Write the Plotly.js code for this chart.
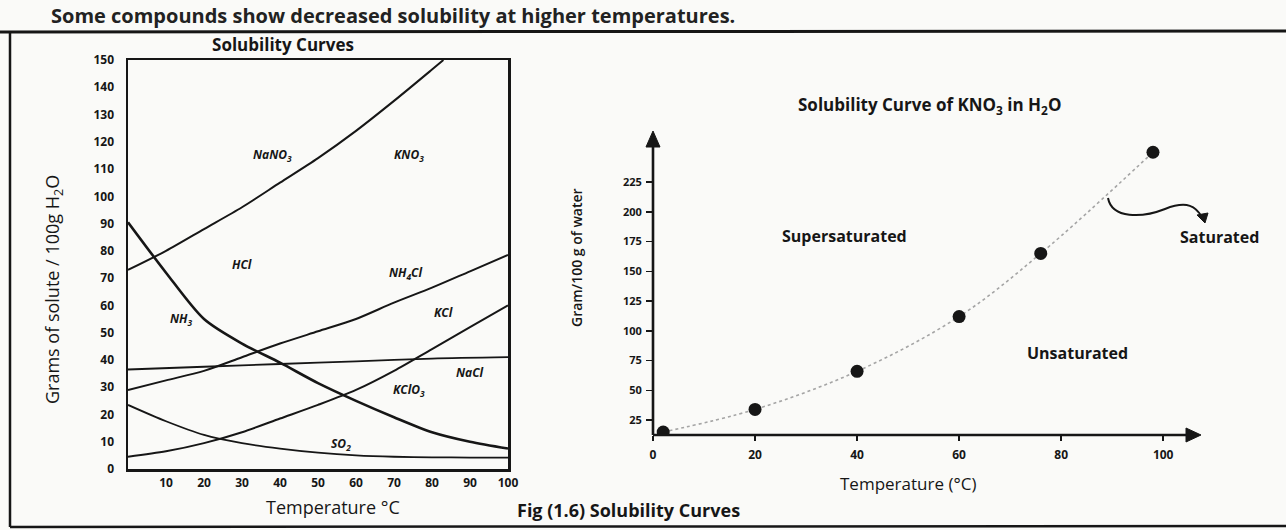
<!DOCTYPE html>
<html><head><meta charset="utf-8">
<script src="https://cdn.plot.ly/plotly-3.0.1.min.js"></script>
<style>html,body{margin:0;padding:0;background:#fafaf8}</style>
</head><body>
<div id="chart" style="width:1286px;height:530px"></div>
<script>
// ---------- data ----------
const temps = [0, 10, 20, 30, 40, 50, 60, 70, 80, 90, 100];
const nano3Temps = [0, 10, 20, 30, 40, 50, 60, 70, 80, 83];
const nano3 = [73, 80, 88, 96, 105, 114, 124, 135, 146.5, 150];
const nh3 = [90.5, 72, 55, 46, 39, 31.5, 25, 19, 13.5, 10, 7.5];
const nh4cl = [29, 32.5, 36, 41, 46, 50.5, 55, 61, 66.5, 72.5, 78.5];
const naclTemps = [0, 20, 40, 60, 80, 100];
const nacl = [36.5, 37.5, 38.5, 39.5, 40.5, 41];
const kclo3 = [4.5, 6.5, 9.5, 13.5, 18.5, 23.5, 29, 36, 44, 52, 60];
const so2 = [23.5, 17.5, 12.5, 9.5, 7.5, 6, 5, 4.5, 4.3, 4.2, 4.2];
const leftXTicks = [10, 20, 30, 40, 50, 60, 70, 80, 90, 100];
const leftYTicks = [0, 10, 20, 30, 40, 50, 60, 70, 80, 90, 100, 110, 120, 130, 140, 150];

const kno3Temps = [2, 20, 40, 60, 76, 98];
const kno3 = [15, 34, 66, 112, 165, 250];
const rightXTicks = [0, 20, 40, 60, 80, 100];
const rightYTicks = [25, 50, 75, 100, 125, 150, 175, 200, 225];

// ---------- helpers for page-pixel placement ----------
const W = 1286, H = 530;
const PX = x => x / W;
const PY = y => 1 - y / H;
const FONT = 'Open Sans, Noto Sans, DejaVu Sans, sans-serif';
const INK = '#161616';

const curveStyle = (w) => ({color: INK, width: w, shape: 'spline', smoothing: 0.8});

const traces = [
  {x: nano3Temps, y: nano3, mode: 'lines', line: curveStyle(2), xaxis: 'x', yaxis: 'y', name: 'NaNO3'},
  {x: temps, y: nh3, mode: 'lines', line: curveStyle(2.6), xaxis: 'x', yaxis: 'y', name: 'NH3'},
  {x: temps, y: nh4cl, mode: 'lines', line: curveStyle(2), xaxis: 'x', yaxis: 'y', name: 'NH4Cl'},
  {x: naclTemps, y: nacl, mode: 'lines', line: curveStyle(1.8), xaxis: 'x', yaxis: 'y', name: 'NaCl'},
  {x: temps, y: kclo3, mode: 'lines', line: curveStyle(2), xaxis: 'x', yaxis: 'y', name: 'KClO3'},
  {x: temps, y: so2, mode: 'lines', line: curveStyle(1.8), xaxis: 'x', yaxis: 'y', name: 'SO2'},
  {x: kno3Temps, y: kno3, mode: 'lines', line: {color: '#a5a5a5', width: 1.6, dash: 'dot', shape: 'spline'}, xaxis: 'x2', yaxis: 'y2', name: 'KNO3 curve'},
  {x: kno3Temps, y: kno3, mode: 'markers', marker: {color: INK, size: 13}, xaxis: 'x2', yaxis: 'y2', name: 'KNO3'}
];

const lblFont = {family: FONT, size: 12, color: INK, weight: 'bold', style: 'italic'};
const curveLabel = (text, x, y) => ({text, x, y, xref: 'x', yref: 'y', showarrow: false, font: lblFont});
const pageText = (text, x, y, size, extra) => Object.assign({
  text, x: PX(x), y: PY(y), xref: 'paper', yref: 'paper', showarrow: false,
  xanchor: 'center', yanchor: 'middle',
  font: {family: FONT, size, color: INK}
}, extra || {});
const boldFont = (size, w) => ({family: FONT, size, color: INK, weight: w || 'bold'});

const annotations = [
  // top line of the page
  pageText('Some compounds show decreased solubility at higher temperatures.', 50, 16, 20,
    {xanchor: 'left', borderpad: 0, font: {family: FONT, size: 20, color: '#222', weight: 'bold'}}),
  // left chart curve labels
  curveLabel('NaNO<sub>3</sub>', 38, 115),
  curveLabel('KNO<sub>3</sub>', 74, 115),
  curveLabel('HCl', 30, 75),
  curveLabel('NH<sub>4</sub>Cl', 73, 72),
  curveLabel('NH<sub>3</sub>', 14, 55),
  curveLabel('KCl', 83, 57.5),
  curveLabel('NaCl', 90, 35.5),
  curveLabel('KClO<sub>3</sub>', 74, 29),
  curveLabel('SO<sub>2</sub>', 56, 9),
  // left axis titles
  pageText('Temperature °C', 333, 507, 18),
  pageText('Grams of solute / 100g H<sub>2</sub>O', 53, 290, 18, {textangle: -90}),
  // caption
  pageText('Fig (1.6) Solubility Curves', 515, 510, 18, {xanchor: 'left', font: boldFont(18)}),
  // right chart
  pageText('Solubility Curve of KNO<sub>3</sub> in H<sub>2</sub>O', 930, 105, 17, {font: boldFont(17)}),
  pageText('Gram/100 g of water', 576, 258, 14, {textangle: -90, font: boldFont(14, 600)}),
  pageText('Temperature (°C)', 908, 483, 17),
  pageText('Supersaturated', 844, 236, 16, {font: boldFont(16)}),
  pageText('Saturated', 1219, 237, 16, {font: boldFont(16)}),
  pageText('Unsaturated', 1077, 353, 16, {font: boldFont(16)})
];

const P = (x, y) => PX(x).toFixed(5) + ',' + PY(y).toFixed(5);
const shapes = [
  // page frame
  {type: 'line', xref: 'paper', yref: 'paper', x0: 0, x1: 1, y0: PY(32), y1: PY(31), line: {color: INK, width: 3}},
  {type: 'line', xref: 'paper', yref: 'paper', x0: PX(10), x1: PX(10), y0: PY(32), y1: PY(527), line: {color: INK, width: 2.5}},
  {type: 'line', xref: 'paper', yref: 'paper', x0: PX(10), x1: 1, y0: PY(527), y1: PY(526), line: {color: INK, width: 2.5}},
  // arrowed axes of the right chart
  {type: 'line', xref: 'paper', yref: 'paper', x0: PX(653), x1: PX(1190), y0: PY(435), y1: PY(435), line: {color: INK, width: 2.6}},
  {type: 'path', xref: 'paper', yref: 'paper', path: 'M' + P(1186, 428) + ' L' + P(1201, 435) + ' L' + P(1186, 442) + ' Z',
   fillcolor: INK, line: {color: INK, width: 1}},
  {type: 'line', xref: 'paper', yref: 'paper', x0: PX(653), x1: PX(653), y0: PY(435), y1: PY(144), line: {color: INK, width: 2.6}},
  {type: 'path', xref: 'paper', yref: 'paper', path: 'M' + P(646, 147) + ' L' + P(653, 131) + ' L' + P(660, 147) + ' Z',
   fillcolor: INK, line: {color: INK, width: 1}},
  // curly pointer near "Saturated"
  {type: 'path', xref: 'paper', yref: 'paper',
   path: 'M' + P(1108, 198) + ' C' + P(1112, 219) + ' ' + P(1142, 218) + ' ' + P(1165, 209) +
         ' S' + P(1196, 207) + ' ' + P(1202, 217),
   line: {color: INK, width: 2}},
  {type: 'path', xref: 'paper', yref: 'paper',
   path: 'M' + P(1197, 215) + ' L' + P(1208, 213) + ' L' + P(1205, 223) + ' Z',
   fillcolor: INK, line: {color: INK, width: 1}}
];

const tickFont = {family: FONT, size: 12, color: INK, weight: 'bold'};

const layout = {
  width: W, height: H,
  margin: {l: 0, r: 0, t: 0, b: 0},
  paper_bgcolor: '#fafaf8', plot_bgcolor: 'rgba(0,0,0,0)',
  showlegend: false,
  title: {text: 'Solubility Curves', x: PX(283), y: PY(45), xanchor: 'center', yanchor: 'middle',
          font: {family: FONT, size: 17, color: INK, weight: 'bold'}},
  xaxis: {domain: [PX(128), PX(508)], range: [0, 100], tickvals: leftXTicks, ticks: '',
          showgrid: false, zeroline: false, showline: true, mirror: true, linewidth: 2.5, linecolor: INK,
          tickfont: tickFont, ticklabelstandoff: 1, anchor: 'y'},
  yaxis: {domain: [PY(469), PY(60)], range: [0, 150], tickvals: leftYTicks, ticks: '',
          showgrid: false, zeroline: false, showline: true, mirror: true, linewidth: 2.5, linecolor: INK,
          tickfont: tickFont, ticklabelstandoff: 9, anchor: 'x'},
  xaxis2: {domain: [PX(653), PX(1204)], range: [0, 108], tickvals: rightXTicks, ticks: 'outside',
           ticklen: 5, tickwidth: 2, tickcolor: INK, showgrid: false, zeroline: false, showline: false,
           tickfont: tickFont, ticklabelstandoff: 4, anchor: 'y2'},
  yaxis2: {domain: [PY(435), PY(132)], range: [12.5, 267], tickvals: rightYTicks, ticks: 'outside',
           ticklen: 6, tickwidth: 1.5, tickcolor: INK, showgrid: false, zeroline: false, showline: false,
           tickfont: {family: FONT, size: 11, color: INK, weight: 'bold'}, ticklabelstandoff: 2, anchor: 'x2'},
  annotations, shapes
};

Plotly.newPlot('chart', traces, layout, {staticPlot: true, displayModeBar: false});
</script>
</body></html>
